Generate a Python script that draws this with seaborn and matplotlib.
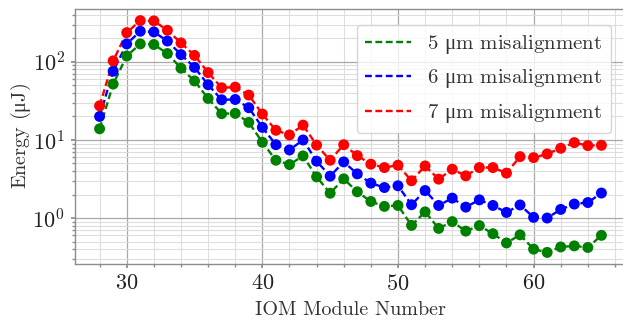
import matplotlib
matplotlib.use("Agg")
import matplotlib.pyplot as plt
import matplotlib.ticker as mticker
import seaborn as sns
import pandas as pd

modules = list(range(28, 66))
e5 = [13.9, 52, 119, 170, 167, 128, 83, 57, 34, 21.7, 21.9, 16.8, 9.35, 5.5, 4.84, 6.25,
      3.37, 2.08, 3.18, 2.17, 1.63, 1.41, 1.45, 0.805, 1.2, 0.736, 0.90, 0.68, 0.80, 0.63,
      0.48, 0.61, 0.40, 0.363, 0.426, 0.44, 0.42, 0.60]
e6 = [20, 76, 170, 247, 242, 185, 124, 85, 51, 32.7, 33, 25.9, 14.5, 8.7, 7.45, 10,
      5.35, 3.44, 5.24, 3.68, 2.8, 2.46, 2.59, 1.48, 2.25, 1.45, 1.8, 1.38, 1.71, 1.45,
      1.18, 1.47, 1.02, 1.0, 1.29, 1.51, 1.58, 2.09]
e7 = [27.4, 103, 237, 338, 335, 254, 175, 121, 73, 46.6, 47.5, 37.6, 21.5, 13.3, 11.6, 15.5,
      8.6, 5.5, 8.7, 6.3, 4.9, 4.43, 4.75, 3.0, 4.65, 3.15, 4.22, 3.47, 4.43, 4.43,
      3.76, 6.12, 5.94, 6.62, 7.83, 9.25, 8.47, 8.55]
labels = [r"5 $\mathrm{\mu}$m misalignment", r"6 $\mathrm{\mu}$m misalignment",
          r"7 $\mathrm{\mu}$m misalignment"]
colors = ["green", "blue", "red"]
xlabel = "IOM Module Number"
ylabel = r"Energy ($\mathrm{\mu}$J)"

df = pd.DataFrame({
    "module": modules * 3,
    "energy": e5 + e6 + e7,
    "series": [labels[0]] * len(modules) + [labels[1]] * len(modules) + [labels[2]] * len(modules),
})

sns.set_theme(style="whitegrid")
plt.rcParams["font.family"] = ["cmr10", "DejaVu Serif"]
plt.rcParams["mathtext.fontset"] = "custom"
plt.rcParams["mathtext.rm"] = "Liberation Serif"
plt.rcParams["mathtext.it"] = "Liberation Serif:italic"
plt.rcParams["mathtext.bf"] = "Liberation Serif:bold"
plt.rcParams["axes.formatter.use_mathtext"] = True
plt.rcParams["axes.unicode_minus"] = False

fig = plt.figure(figsize=(6.23, 3.2), dpi=100)
ax = fig.add_axes([74.5 / 623, 56 / 320, 552 / 623, 255 / 320])
ax.set_facecolor("white")

palette = dict(zip(labels, colors))
dash = (2.9, 1.5)
sns.lineplot(data=df, x="module", y="energy", hue="series", palette=palette,
             linestyle="--", linewidth=1.7, ax=ax, legend=True)
for line in ax.get_lines():
    line.set_dashes(dash)
sns.scatterplot(data=df, x="module", y="energy", hue="series", palette=palette,
                s=62, edgecolor="none", ax=ax, legend=False, zorder=3)

ax.set_yscale("log")
ax.xaxis.set_major_locator(mticker.MultipleLocator(10))
ax.xaxis.set_minor_locator(mticker.MultipleLocator(2))
ax.grid(True, which="major", color="#a8a8a8", linewidth=0.9)
ax.grid(True, which="minor", color="#dddddd", linewidth=0.8)
ax.set_axisbelow(True)
for s in ax.spines.values():
    s.set_color("#8c8c8c")
    s.set_linewidth(1.0)
ax.tick_params(which="both", direction="out", color="#8c8c8c", bottom=True, left=True)
ax.tick_params(which="major", length=3, labelsize=16, pad=4, labelcolor="#222222")
ax.tick_params(which="minor", length=2)
ax.set_xlabel(xlabel, fontsize=14.5, color="#333333", labelpad=5)
ax.set_ylabel(ylabel, fontsize=14.5, color="#333333", labelpad=-0.5)

leg = ax.legend(loc="upper right", fontsize=15, frameon=True, handlelength=2.2,
                labelspacing=0.55, borderaxespad=0.75, handletextpad=0.8)
for h in leg.get_lines():
    h.set_dashes(dash)
for t in leg.get_texts():
    t.set_color("#333333")

fig.savefig("out.png", dpi=100)
